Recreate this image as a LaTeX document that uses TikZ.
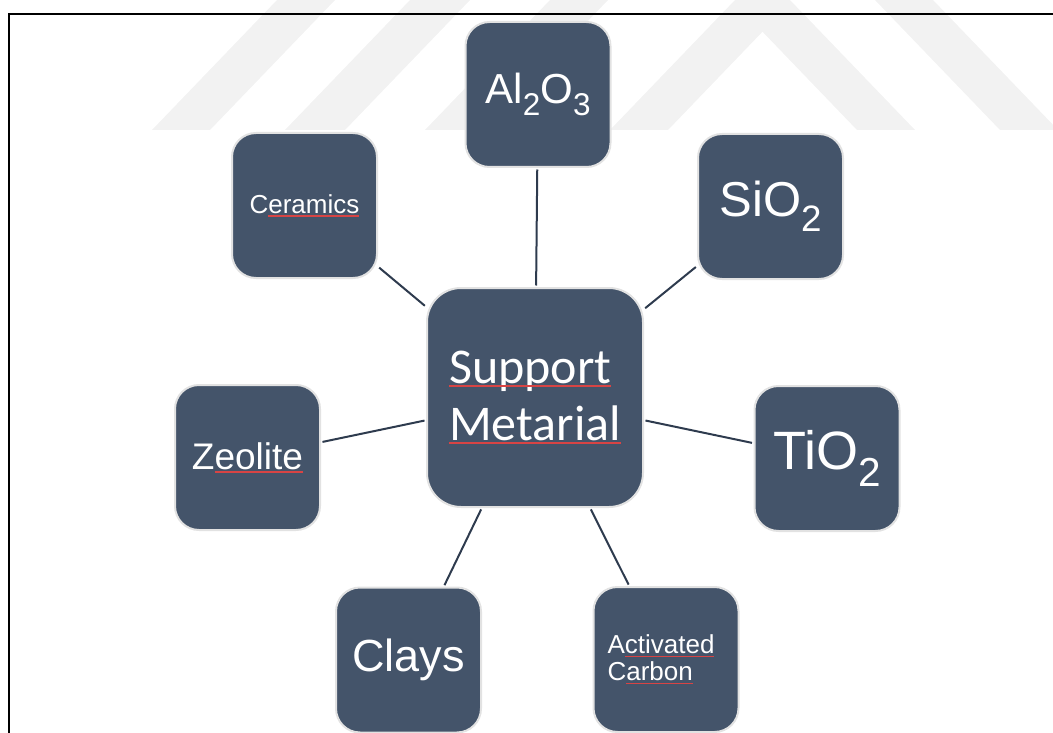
\documentclass[tikz,border=0pt]{standalone}
\usepackage{fontspec}
\setmainfont{Liberation Sans}
\newfontfamily\calibfont{Carlito}
\definecolor{boxfill}{HTML}{44546A}
\definecolor{rimgray}{HTML}{E2E2E2}
\definecolor{linkcol}{HTML}{2E3B4E}
\definecolor{spellred}{HTML}{D84444}
\newcommand\chemsub[1]{\raisebox{-0.3em}{\scalebox{0.75}{#1}}}
\newcommand\spellmark[1]{\setbox0=\hbox{#1}\copy0\llap{\textcolor{spellred}{\rule[-3.8pt]{\wd0}{1.8pt}}}}

\begin{document}
\begin{tikzpicture}[x=1pt, y=-1pt,
    matbox/.style={rectangle, rounded corners=24pt, fill=boxfill, draw=rimgray,
        line width=2pt, minimum width=145pt, minimum height=145pt,
        inner sep=0pt, text=white},
    hubbox/.style={matbox, rounded corners=34pt, minimum width=216pt, minimum height=219pt},
    link/.style={draw=linkcol, line width=2pt, shorten <=1.5pt, shorten >=1.5pt}]
    % 1. Page area
    \useasboundingbox (0,0) rectangle (1053,733);

    % 2. Watermark stripes (light grey)
    \begin{scope}
    \clip (0,0) rectangle (1053,733);
    \fill[black!5] (152,130) -- (210,130) -- (335,0) -- (277,0) -- cycle;
    \fill[black!5] (285,130) -- (345,130) -- (470,0) -- (410,0) -- cycle;
    \fill[black!5] (425,130) -- (483,130) -- (608,0) -- (550,0) -- cycle;
    \fill[black!5] (610,130) -- (735,0) -- (790,0) -- (915,130) -- (857,130)
        -- (762.5,31.7) -- (668,130) -- cycle;
    \fill[black!5] (1000,130) -- (1058,130) -- (933,0) -- (875,0) -- cycle;
    \end{scope}

    % 3. Frame
    \draw[line width=2pt] (8.5,733) -- (8.5,14) -- (1053,14);

    % 4. Centre box and materials
    \node[hubbox, align=left, font=\calibfont\fontsize{50pt}{57pt}\selectfont]
        (sup) at (535,397.5) {\spellmark{Support}\\\spellmark{Metarial}};
    \node[matbox, font=\fontsize{42pt}{48pt}\selectfont] (alu) at (538,94.5) {Al\chemsub{2}O\chemsub{3}};
    \node[matbox, font=\fontsize{26pt}{30pt}\selectfont] (cer) at (304.5,205.5) {C\spellmark{eramics}};
    \node[matbox, font=\fontsize{49pt}{56pt}\selectfont] (sio) at (770.5,206.5) {SiO\chemsub{2}};
    \node[matbox, font=\fontsize{37pt}{42pt}\selectfont] (zeo) at (247.5,457.5) {Z\spellmark{eolite}};
    \node[matbox, font=\fontsize{54pt}{60pt}\selectfont] (tio) at (827,458.5) {TiO\chemsub{2}};
    \node[matbox, font=\fontsize{45pt}{50pt}\selectfont] (clay) at (408.5,660) {Clays};
    \node[matbox, align=left, font=\fontsize{26pt}{27pt}\selectfont]
        (carb) at (666,659.5) {A\spellmark{ctivated}\hspace*{10pt}\\C\spellmark{arbon}};

    % 5. Connectors
    \foreach \m in {alu,cer,sio,zeo,tio,clay,carb}
        \draw[link] (sup) -- (\m);
\end{tikzpicture}
\end{document}
